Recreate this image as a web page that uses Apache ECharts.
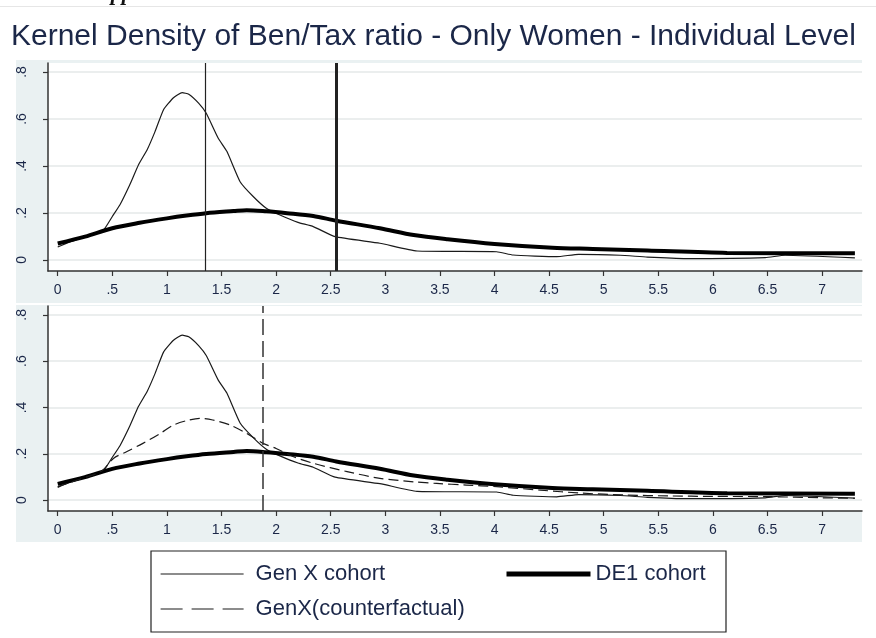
<!DOCTYPE html>
<html>
<head>
<meta charset="utf-8">
<script src="https://cdn.jsdelivr.net/npm/echarts@6/dist/echarts.min.js"></script>
<style>
  html, body { margin: 0; padding: 0; background: #fff; }
</style>
</head>
<body>
<div id="kdens" style="width:876px;height:638px;"></div>
<script type="text/javascript">
// Gen X cohort (thin line)
var genxX = [0, 0.1, 0.2, 0.3, 0.42, 0.5, 0.57, 0.66, 0.74, 0.82, 0.89, 0.97, 1.06, 1.14, 1.2, 1.29, 1.36, 1.47, 1.55, 1.67, 1.79, 1.91, 2.04, 2.2, 2.34, 2.54, 2.95, 3.29, 4.02, 4.17, 4.57, 4.77, 5.15, 5.4, 5.76, 6.48, 6.66, 7.3];
var genxY = [0.055, 0.075, 0.09, 0.108, 0.128, 0.185, 0.235, 0.32, 0.405, 0.47, 0.545, 0.64, 0.69, 0.712, 0.705, 0.667, 0.624, 0.518, 0.461, 0.333, 0.27, 0.22, 0.19, 0.16, 0.142, 0.099, 0.071, 0.038, 0.035, 0.021, 0.014, 0.024, 0.02, 0.012, 0.006, 0.01, 0.02, 0.009];

// DE1 cohort (thick line)
var de1X = [0, 0.25, 0.5, 0.75, 1.0, 1.18, 1.36, 1.61, 1.73, 1.91, 2.1, 2.34, 2.55, 2.95, 3.26, 3.57, 4.0, 4.53, 4.9, 5.4, 6.13, 7.3];
var de1Y = [0.07, 0.099, 0.135, 0.158, 0.177, 0.189, 0.199, 0.208, 0.212, 0.207, 0.199, 0.187, 0.167, 0.135, 0.106, 0.088, 0.068, 0.052, 0.047, 0.04, 0.03, 0.028];

// GenX counterfactual (dashed, bottom panel only)
var cfX = [0, 0.2, 0.4, 0.51, 0.63, 0.78, 0.94, 1.06, 1.18, 1.3, 1.42, 1.58, 1.73, 1.88, 2.0, 2.16, 2.34, 2.65, 2.95, 3.26, 3.47, 3.74, 4.02, 4.42, 4.8, 5.2, 5.6, 6.0, 6.5, 7.0, 7.3];
var cfY = [0.058, 0.09, 0.125, 0.18, 0.209, 0.245, 0.288, 0.324, 0.343, 0.353, 0.346, 0.324, 0.288, 0.245, 0.223, 0.187, 0.159, 0.123, 0.094, 0.079, 0.072, 0.065, 0.058, 0.043, 0.03, 0.022, 0.018, 0.016, 0.015, 0.01, 0.008];

// vertical reference lines
var topThinLine = 1.355;
var topThickLine = 2.55;
var bottomDashLine = 1.883;

var xTicks = [0, 0.5, 1, 1.5, 2, 2.5, 3, 3.5, 4, 4.5, 5, 5.5, 6, 6.5, 7];
var yTicks = [0, 0.2, 0.4, 0.6, 0.8];

function pairs(xs, ys) {
    return xs.map(function (x, i) { return [x, ys[i]]; });
}
// stata style: drop the leading zero
function stataFmt(v) {
    var s = String(v);
    return s.indexOf('0.') === 0 ? s.slice(1) : s;
}

var txtColor = '#1b2748';
var font = 'Liberation Sans';

function xAxisFor(i) {
    return {
        type: 'value', gridIndex: i, min: -0.089, max: 7.365,
        axisLine: { onZero: false, lineStyle: { color: '#333', width: 1.5 } },
        axisTick: { customValues: xTicks, length: 5, lineStyle: { color: '#333', width: 1.2 } },
        axisLabel: { customValues: xTicks, formatter: stataFmt, color: txtColor, fontSize: 14, fontFamily: font, margin: 12 },
        splitLine: { show: false }
    };
}
function yAxisFor(i) {
    return {
        type: 'value', gridIndex: i, min: -0.047, max: 0.838,
        axisLine: { show: true, onZero: false, lineStyle: { color: '#333', width: 1.5 } },
        axisTick: { show: true, customValues: yTicks, length: 5, lineStyle: { color: '#333', width: 1.2 } },
        axisLabel: { customValues: yTicks, formatter: stataFmt, rotate: 90, color: txtColor, fontSize: 14, fontFamily: font, margin: 19 },
        splitLine: { show: true, lineStyle: { color: '#e4e8e9', width: 1.5 } }
    };
}

var thin = { color: '#1a1a1a', width: 1.2 };
var thick = { color: '#000', width: 4 };
var dashed = { color: '#1a1a1a', width: 1.2, type: [10, 5] };

function vline(x, style) {
    return { silent: true, symbol: 'none', label: { show: false }, lineStyle: style, data: [{ xAxis: x }] };
}
function legendFor(name, left, top, iconW, lineStyle, textPad) {
    return {
        data: [name], left: left, top: top, padding: 0, itemWidth: iconW, itemHeight: 14, selectedMode: false,
        itemStyle: { opacity: 0 },
        lineStyle: lineStyle,
        textStyle: { color: txtColor, fontSize: 22, fontFamily: font, padding: [0, 0, 0, textPad] }
    };
}

var myChart = echarts.init(document.getElementById('kdens'));
var option = {
    animation: false,
    backgroundColor: '#fff',
    title: {
        text: 'Kernel Density of Ben/Tax ratio - Only Women - Individual Level',
        left: 11, top: 22, padding: 0,
        textStyle: { color: txtColor, fontSize: 30, fontWeight: 'normal', fontFamily: font }
    },
    graphic: [
        { type: 'rect', z: -1, shape: { x: 0, y: 6, width: 876, height: 1 }, style: { fill: '#e6e6e6' } },
        { type: 'text', z: -1, x: 96, y: 5, style: { text: 'Appendix', fill: '#111', font: 'italic bold 22px "Liberation Serif"', verticalAlign: 'bottom' } },
        { type: 'rect', z: -1, shape: { x: 16, y: 60, width: 846, height: 243 }, style: { fill: '#eaf1f2' } },
        { type: 'rect', z: -1, shape: { x: 16, y: 305, width: 846, height: 237 }, style: { fill: '#eaf1f2' } },
        { type: 'rect', z: -1, shape: { x: 151, y: 551, width: 575, height: 81 }, style: { fill: '#fff', stroke: '#222', lineWidth: 1.2 } }
    ],
    grid: [
        { left: 48, top: 63, width: 814, height: 208, show: true, backgroundColor: '#fff', borderWidth: 0 },
        { left: 48, top: 306, width: 814, height: 205, show: true, backgroundColor: '#fff', borderWidth: 0 }
    ],
    legend: [
        legendFor('Gen X cohort', 160, 563, 83, { width: 1.2, type: 'solid' }, 7),
        legendFor('DE1 cohort', 504, 563, 84, { width: 5, type: 'solid' }, 0),
        legendFor('GenX(counterfactual)', 160, 598, 83, { width: 1.2, type: [22, 9] }, 7)
    ],
    xAxis: [xAxisFor(0), xAxisFor(1)],
    yAxis: [yAxisFor(0), yAxisFor(1)],
    series: [
        { name: 'Gen X cohort', type: 'line', xAxisIndex: 0, yAxisIndex: 0, symbol: 'none', smooth: 0.15,
          lineStyle: thin, itemStyle: { color: thin.color }, data: pairs(genxX, genxY),
          markLine: vline(topThinLine, { color: '#222', width: 1.2, type: 'solid' }) },
        { name: 'DE1 cohort', type: 'line', xAxisIndex: 0, yAxisIndex: 0, symbol: 'none', smooth: 0.3,
          lineStyle: thick, itemStyle: { color: thick.color }, data: pairs(de1X, de1Y),
          markLine: vline(topThickLine, { color: '#222', width: 3, type: 'solid' }) },
        { name: 'Gen X cohort', type: 'line', xAxisIndex: 1, yAxisIndex: 1, symbol: 'none', smooth: 0.15,
          lineStyle: thin, itemStyle: { color: thin.color }, data: pairs(genxX, genxY) },
        { name: 'DE1 cohort', type: 'line', xAxisIndex: 1, yAxisIndex: 1, symbol: 'none', smooth: 0.3,
          lineStyle: thick, itemStyle: { color: thick.color }, data: pairs(de1X, de1Y) },
        { name: 'GenX(counterfactual)', type: 'line', xAxisIndex: 1, yAxisIndex: 1, symbol: 'none', smooth: 0.3,
          lineStyle: dashed, itemStyle: { color: dashed.color }, data: pairs(cfX, cfY),
          markLine: vline(bottomDashLine, { color: '#333', width: 1.5, type: [16, 6] }) }
    ]
};
myChart.setOption(option);
</script>
</body>
</html>
